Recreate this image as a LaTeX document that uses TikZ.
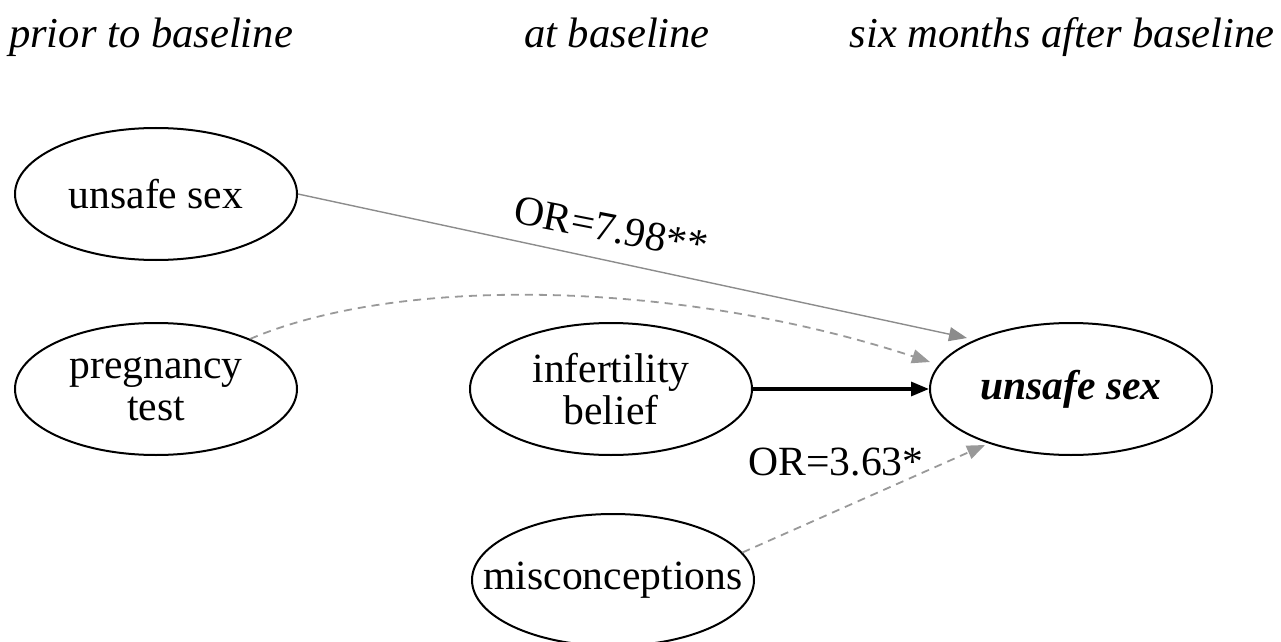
\documentclass[tikz,border=0pt]{standalone}
\usepackage{fontspec}
\setmainfont{Liberation Serif}
\usetikzlibrary{shapes.geometric,arrows.meta}
\begin{document}
\begin{tikzpicture}[x=0.5pt,y=-0.5pt,
  every node/.style={font=\fontsize{20.8}{21}\selectfont},
  var/.style={ellipse,draw=black,line width=1pt,inner sep=0pt,minimum width=141pt,minimum height=66pt,align=center},
  hdr/.style={font=\fontsize{21.3}{22}\selectfont\itshape,anchor=base},
  gtip/.style={-{Triangle[length=9pt,width=7pt]}},
  garrow/.style={gtip,draw=black!45,line width=0.7pt},
  gdash/.style={gtip,draw=black!40,line width=0.9pt,dash pattern=on 4pt off 3pt},
  barrow/.style={-{Triangle[length=9pt,width=7pt]},draw=black,line width=1.6pt}]
\useasboundingbox (0,0) rectangle (1281,642);
\node[hdr] (h1) at (151,48) {prior to baseline};
\node[hdr] (h2) at (617,48) {at baseline};
\node[hdr] (h3) at (1062,48) {six months after baseline};
\node[var] (us) at (156,194) {unsafe sex};
\node[var] (pt) at (156,389) {pregnancy\\test};
\node[var] (ib) at (611,389) {infertility\\belief};
\node[var] (ur) at (1071,389) {\textbf{\textit{unsafe sex}}};
\node[var,inner xsep=-15pt] (mc) at (613,580) {misconceptions};
\coordinate (t1) at (967,338);
\coordinate (t2) at (930,362);
\coordinate (t3) at (985,445);
\draw[garrow] (us.east) -- (t1);
\draw[gdash] (pt.28) .. controls (400,275) and (680,280) .. (t2);
\draw[barrow] (ib.east) -- (ur.west);
\draw[gdash] (mc.12) -- (t3);
\node[rotate=-11] (l1) at (611,228) {OR=7.98**};
\node (l2) at (836,462) {OR=3.63*};
\end{tikzpicture}
\end{document}
